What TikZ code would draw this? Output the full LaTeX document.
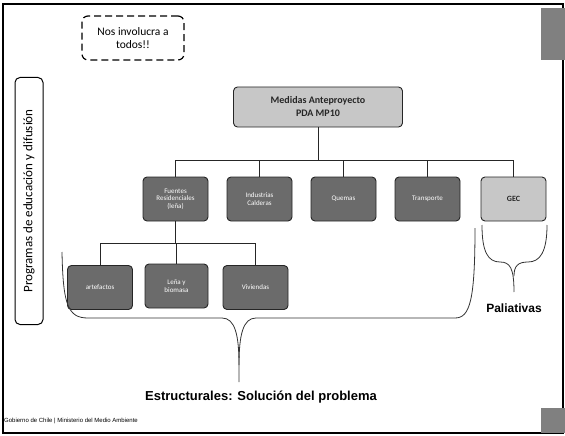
\documentclass[tikz,border=0pt]{standalone}
\usepackage{fontspec}
\setmainfont{Carlito}
\newfontfamily\arialfont{Liberation Sans}
\tikzset{
  medida/.style={draw=black!85, line width=0.9pt, rounded corners=4pt, fill=black!58,
    text=white, font=\fontsize{7}{7.5}\selectfont, align=center,
    minimum width=65pt, minimum height=44pt, inner sep=1pt},
  claro/.style={medida, fill=black!22, text=black!85},
  rama/.style={line width=0.9pt, draw=black!85},
  llave/.style={line width=0.8pt, draw=black!80}
}
\begin{document}
\begin{tikzpicture}[x=1pt,y=-1pt]
  \useasboundingbox (0,0) rectangle (565,436);
  % marco de la lamina
  \draw[line width=1.4pt] (3,4) rectangle (563,433);
  \fill[black!50] (541,8) rectangle (565,60);
  \fill[black!50] (541,408) rectangle (565,433);

  \node[draw, dash pattern=on 7pt off 4pt, rounded corners=6pt, line width=1.2pt,
    minimum width=102pt, minimum height=44pt, align=center,
    font=\fontsize{11.5}{13}\selectfont] (todos) at (133,38) {Nos involucra a\\todos!!};
  \node[draw, rounded corners=5pt, line width=1pt, rotate=90, minimum width=247pt,
    minimum height=28pt, font=\fontsize{13}{14}\selectfont] (prog) at (29,201)
    {Programas de educación y difusión};

  \node[claro, minimum width=169pt, minimum height=40pt,
    font=\fontsize{10}{13}\selectfont\bfseries] (pda) at (318,107) {Medidas Anteproyecto\\PDA MP10};

  % segundo nivel
  \node[medida] (fuentes) at (175.5,199) {Fuentes\\Residenciales\\(leña)};
  \node[medida] (indus) at (259.5,199) {Industrias\\Calderas};
  \node[medida] (quemas) at (343.5,199) {Quemas};
  \node[medida] (transp) at (427.5,199) {Transporte};
  \node[claro, font=\fontsize{8}{9}\selectfont\bfseries] (gec) at (513.5,199) {GEC};

  % tercer nivel
  \node[medida] (artef) at (100,287.5) {artefactos};
  \node[medida, minimum width=63pt] (lena) at (176.5,286) {Leña y\\biomasa};
  \node[medida] (viv) at (255.5,287.5) {Viviendas};

  \coordinate (j1) at (318,160);
  \coordinate (j2) at (175.5,243);
  \draw[rama] (pda) -- (j1);
  \draw[rama] (j1 -| fuentes) -- (j1 -| gec);
  \foreach \n in {fuentes,indus,quemas,transp,gec}
    \draw[rama] (j1 -| \n) -- (\n);
  \draw[rama] (fuentes) -- (j2);
  \draw[rama] (j2 -| artef) -- (j2 -| viv);
  \foreach \n in {artef,lena,viv}
    \draw[rama] (j2 -| \n) -- (\n);

  % llaves
  \draw[llave] (62,252) .. controls (63,305) and (68,318) .. (88,318) -- (222,318)
    .. controls (235,318) and (239,335) .. (239,365) -- (239,382);
  \draw[llave] (239,365) .. controls (239,335) and (243,318) .. (256,318) -- (455,318)
    .. controls (470,318) and (475,300) .. (475,228);
  \draw[llave] (482,225) .. controls (482,252) and (488,262) .. (500,262)
    .. controls (510,262) and (514,268) .. (514,292);
  \draw[llave] (514,276) .. controls (514,266) and (518,262) .. (528,262)
    .. controls (540,262) and (547,252) .. (547,225);

  \node[font=\arialfont\fontsize{12}{14}\selectfont\bfseries] (paliat) at (514,308) {Paliativas};
  \node[font=\arialfont\fontsize{13}{15}\selectfont\bfseries] (estruct) at (261,397)
    {Estructurales: Solución del problema};
  \node[anchor=west, inner sep=0pt, font=\arialfont\fontsize{6}{7}\selectfont] (pie) at (4,421)
    {Gobierno de Chile | Ministerio del Medio Ambiente};
\end{tikzpicture}
\end{document}
